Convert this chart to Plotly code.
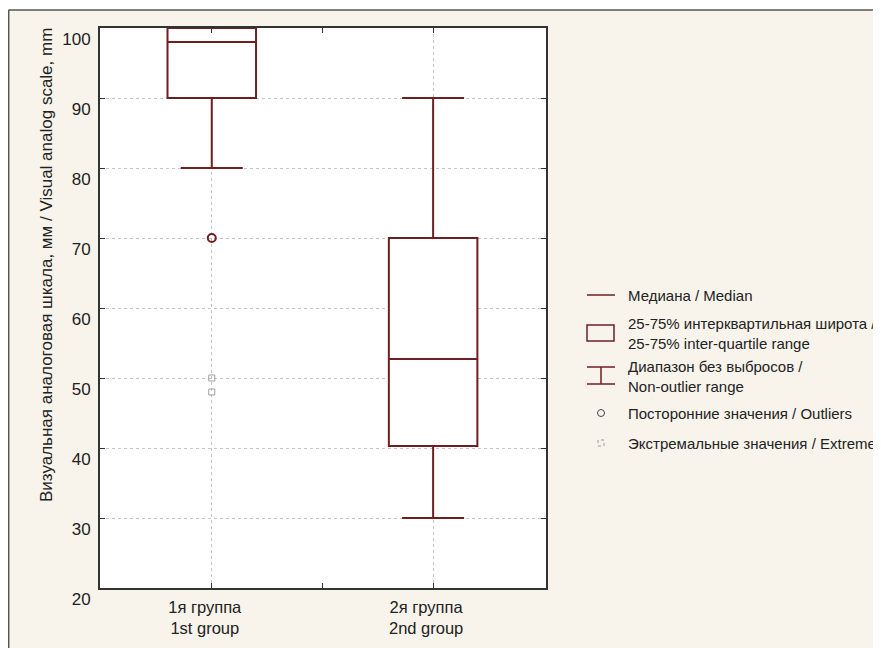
import plotly.graph_objects as go

# ---- data ----
groups = ["1я группа<br>1st group", "2я группа<br>2nd group"]
group_pos = [0, 1]
q1 = [90, 40.3]
median = [98, 52.7]
q3 = [100, 70]
lower_fence = [80, 30]
upper_fence = [100, 90]
outlier_x = [0]
outlier_y = [70]
extreme_x = [0, 0]
extreme_y = [50, 48]
y_ticks = [20, 30, 40, 50, 60, 70, 80, 90, 100]

y_title = "Визуальная аналоговая шкала, мм / Visual analog scale, mm"
legend_labels = [
    "Медиана / Median",
    "25-75% интерквартильная широта /<br>25-75% inter-quartile range",
    "Диапазон без выбросов /<br>Non-outlier range",
    "Посторонние значения / Outliers",
    "Экстремальные значения / Extremes",
]

# ---- style ----
OFF = 8  # page body margin
W, H = 881 - OFF, 648 - OFF
ML, MT = 100 - OFF, 28 - OFF
MR = W - (546 - OFF)
MB = H - (588 - OFF)
PW, PH = W - ML - MR, H - MT - MB
BOX_COLOR = "#6e1f22"
BEIGE = "#f8f4ec"
FONT = "Arial, Liberation Sans, sans-serif"


def px(x):  # page pixel -> paper
    return (x - OFF - ML) / PW


def py(y):
    return (H - MB - (y - OFF)) / PH


fig = go.Figure()

for i in range(len(groups)):
    fig.add_trace(go.Box(
        x=[group_pos[i]], q1=[q1[i]], median=[median[i]], q3=[q3[i]],
        lowerfence=[lower_fence[i]], upperfence=[upper_fence[i]],
        width=0.4, whiskerwidth=0.7, boxpoints=False,
        line=dict(color=BOX_COLOR, width=2), fillcolor="white",
        showlegend=False, hoverinfo="skip",
    ))

fig.add_trace(go.Scatter(
    x=outlier_x, y=outlier_y, mode="markers",
    marker=dict(symbol="circle-open", size=8, color=BOX_COLOR, line=dict(width=2)),
    showlegend=False,
))
fig.add_trace(go.Scatter(
    x=extreme_x, y=extreme_y, mode="markers",
    marker=dict(symbol="square-open", size=6, color="#a0a0a0", line=dict(width=1)),
    showlegend=False,
))

shapes = []
# white strip and panel border
shapes.append(dict(type="rect", xref="paper", yref="paper", x0=px(0), x1=px(900), y0=py(10), y1=py(0),
                   fillcolor="white", line=dict(width=0), layer="below"))
shapes.append(dict(type="line", xref="paper", yref="paper", x0=px(8.5), x1=px(900), y0=py(10), y1=py(10),
                   line=dict(color="#555", width=1.5)))
shapes.append(dict(type="line", xref="paper", yref="paper", x0=px(8.7), x1=px(8.7), y0=py(10), y1=py(660),
                   line=dict(color="#555", width=1.5)))

# legend symbols
shapes.append(dict(type="line", xref="paper", yref="paper", x0=px(587), x1=px(615), y0=py(295), y1=py(295),
                   line=dict(color=BOX_COLOR, width=1.5)))
shapes.append(dict(type="rect", xref="paper", yref="paper", x0=px(587), x1=px(614), y0=py(341), y1=py(325),
                   line=dict(color=BOX_COLOR, width=1.5)))
shapes.append(dict(type="line", xref="paper", yref="paper", x0=px(587), x1=px(615), y0=py(367), y1=py(367),
                   line=dict(color=BOX_COLOR, width=1.5)))
shapes.append(dict(type="line", xref="paper", yref="paper", x0=px(587), x1=px(615), y0=py(384), y1=py(384),
                   line=dict(color=BOX_COLOR, width=1.5)))
shapes.append(dict(type="line", xref="paper", yref="paper", x0=px(601), x1=px(601), y0=py(367), y1=py(384),
                   line=dict(color=BOX_COLOR, width=1.5)))
shapes.append(dict(type="circle", xref="paper", yref="paper", x0=px(597.5), x1=px(604.5), y0=py(416.5), y1=py(409.5),
                   line=dict(color="#444", width=1)))
shapes.append(dict(type="rect", xref="paper", yref="paper", x0=px(598), x1=px(604), y0=py(446), y1=py(440),
                   line=dict(color="#999", width=1, dash="dot")))

annotations = []
legend_y = [295, 333, 376, 413, 443]
for lab, yy in zip(legend_labels, legend_y):
    annotations.append(dict(text=lab, xref="paper", yref="paper", x=px(626), y=py(yy),
                            xanchor="left", yanchor="middle", showarrow=False, align="left",
                            font=dict(family=FONT, size=15, color="#222")))
annotations.append(dict(text=y_title, xref="paper", yref="paper", x=px(46), y=py(265),
                        xanchor="center", yanchor="middle", showarrow=False, textangle=-90,
                        font=dict(family=FONT, size=17, color="#222")))

fig.update_layout(
    width=W, height=H,
    margin=dict(l=ML, r=MR, t=MT, b=MB),
    paper_bgcolor=BEIGE, plot_bgcolor="white",
    font=dict(family=FONT, color="#222"),
    shapes=shapes, annotations=annotations,
    showlegend=False,
)
fig.update_xaxes(
    range=[-0.505, 1.51], tickvals=group_pos, ticktext=groups,
    ticks="inside", ticklen=5, tickcolor="#333", mirror="ticks",
    showline=True, linecolor="#333", linewidth=2,
    showgrid=True, gridcolor="#c4c4c4", griddash="dot", gridwidth=1,
    zeroline=False, tickfont=dict(size=16.5, color="#222"),
    ticklabelshift=-7, ticklabelstandoff=3,
    minor=dict(tickvals=[0.5], ticks="inside", ticklen=5, tickcolor="#333", showgrid=False),
)
fig.update_yaxes(
    range=[20, 100], tickvals=y_ticks,
    ticks="inside", ticklen=5, tickcolor="#333", mirror="ticks",
    showline=True, linecolor="#333", linewidth=2,
    showgrid=True, gridcolor="#c4c4c4", griddash="dot", gridwidth=1,
    zeroline=False, tickfont=dict(size=17, color="#222"),
    ticklabelshift=11, ticklabelstandoff=4,
)

fig.write_html("out.html")
